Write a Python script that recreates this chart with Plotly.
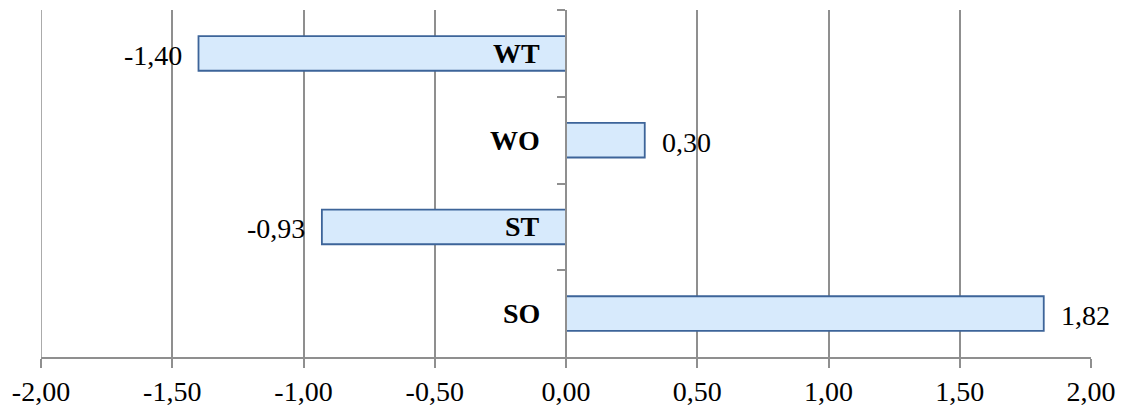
import plotly.graph_objects as go

# Scores per group
categories = ["WT", "WO", "ST", "SO"]
values = [-1.40, 0.30, -0.93, 1.82]
x_ticks = [-2.0, -1.5, -1.0, -0.5, 0.0, 0.5, 1.0, 1.5, 2.0]

serif = "Liberation Serif"
grid_col = "#8f8f8f"


def fmt(v):
    return f"{v:.2f}".replace(".", ",")


fig = go.Figure()
fig.add_trace(go.Bar(
    x=values,
    y=categories,
    orientation="h",
    width=0.4,
    marker=dict(color="#d7eafc", line=dict(color="#3d6499", width=1.8)),
    hoverinfo="skip",
))

annotations = []
for cat, v in zip(categories, values):
    # value label just beyond the bar end
    annotations.append(dict(
        x=v, y=cat, xref="x", yref="y", text=fmt(v), showarrow=False,
        xanchor="right" if v < 0 else "left",
        xshift=-15 if v < 0 else 15, yshift=-2,
        font=dict(family=serif, size=28, color="black"),
    ))
    # category label to the left of the zero axis
    annotations.append(dict(
        x=0, y=cat, xref="x", yref="y", text=f"<b>{cat}</b>", showarrow=False,
        xanchor="right", xshift=-24,
        font=dict(family=serif, size=28, color="black"),
    ))

# left-edge gridline at the first tick
shapes = [dict(type="line", xref="x", yref="paper", x0=x_ticks[0], x1=x_ticks[0],
               y0=0, y1=1, line=dict(color=grid_col, width=1.5), layer="below")]

fig.update_layout(
    width=1134, height=407,
    margin=dict(l=41, r=43, t=10, b=50),
    paper_bgcolor="white", plot_bgcolor="white",
    showlegend=False,
    annotations=annotations,
    shapes=shapes,
    xaxis=dict(
        range=[-2, 2], tickvals=x_ticks, ticktext=[fmt(t) for t in x_ticks],
        automargin=False,
        showgrid=True, gridcolor=grid_col, gridwidth=1.5,
        zeroline=False, showline=True, linecolor=grid_col, linewidth=1.5,
        ticks="outside", ticklen=9, tickcolor=grid_col, tickwidth=1.5,
        tickfont=dict(family=serif, size=28, color="black"),
    ),
    yaxis=dict(
        categoryorder="array", categoryarray=categories,
        range=[3.5, -0.5], anchor="free", position=0.5,
        automargin=False,
        showgrid=False, zeroline=False, showline=True,
        linecolor=grid_col, linewidth=1.5,
        ticks="outside", tickson="boundaries", ticklen=8,
        tickcolor=grid_col, tickwidth=1.5, showticklabels=False,
    ),
)

fig.write_html("out.html")
